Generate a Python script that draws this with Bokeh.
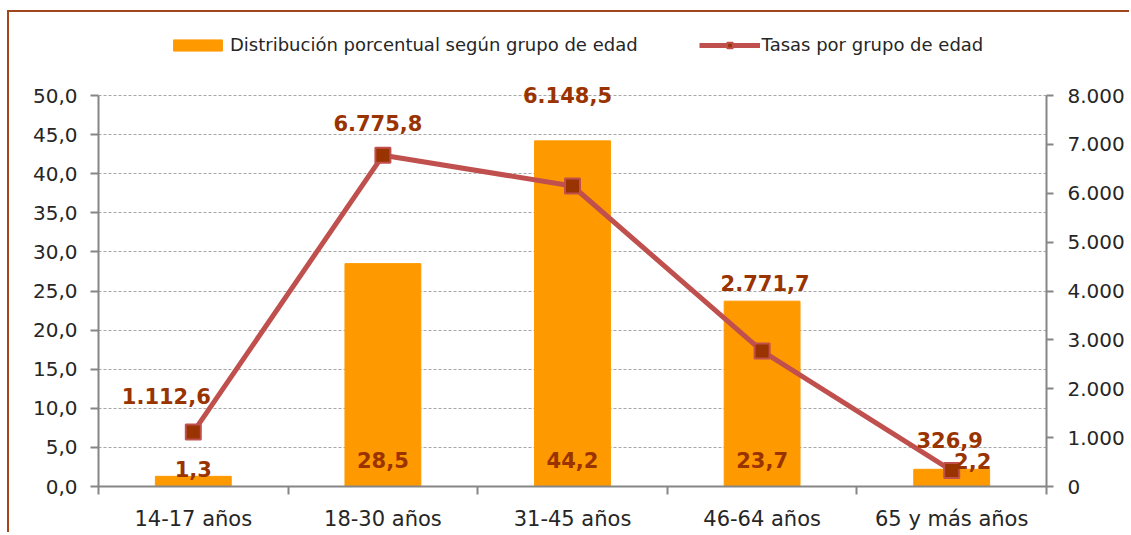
from bokeh.plotting import figure
from bokeh.models import Range1d, LinearAxis, FixedTicker, Legend, LegendItem
from bokeh.core.properties import value
from bokeh.embed import file_html
from bokeh.resources import INLINE

# ---- data ----
categories = ["14-17 años", "18-30 años", "31-45 años", "46-64 años", "65 y más años"]
distribucion = [1.3, 28.5, 44.2, 23.7, 2.2]
tasas = [1112.6, 6775.8, 6148.5, 2771.7, 326.9]
dist_labels = ["1,3", "28,5", "44,2", "23,7", "2,2"]
tasa_labels = ["1.112,6", "6.775,8", "6.148,5", "2.771,7", "326,9"]
left_ticks = [0, 5, 10, 15, 20, 25, 30, 35, 40, 45, 50]
left_tick_labels = ["0,0", "5,0", "10,0", "15,0", "20,0", "25,0", "30,0", "35,0", "40,0", "45,0", "50,0"]
right_ticks = [0, 1000, 2000, 3000, 4000, 5000, 6000, 7000, 8000]
right_tick_labels = ["0", "1.000", "2.000", "3.000", "4.000", "5.000", "6.000", "7.000", "8.000"]
legend_labels = ["Distribución porcentual según grupo de edad", "Tasas por grupo de edad"]

# ---- label placement (pixels, styling only) ----
tasa_dx = [-27, -5, -5, 3, -2]
tasa_dy = [-36, -32, -91, -68, -31]
dist_dx = [0, 0, 0, 0, 21]
dist_dy = [-18, -27, -27, -27, -26]

FONT_NAME = "DejaVu Sans"
FONT = value(FONT_NAME)
AXIS_COLOR = "#868686"
TEXT_COLOR = "#262626"
LABEL_COLOR = "#993300"
BAR_COLOR = "#FF9900"
LINE_COLOR = "#C0504D"

# layout (canvas pixels)
W, H = 1122, 522
FRAME_TOP, AXIS_TOP, FRAME_BOTTOM = 20, 83, 474
FRAME_LEFT, FRAME_RIGHT = 89, 1037
ext = (FRAME_BOTTOM - FRAME_TOP) / (FRAME_BOTTOM - AXIS_TOP)

x = list(range(len(categories)))
bounds = [i - 0.5 for i in range(len(categories) + 1)]

p = figure(width=W, height=H,
           x_range=Range1d(-0.5, len(categories) - 0.5),
           y_range=Range1d(left_ticks[0], left_ticks[-1] * ext),
           output_backend="svg", toolbar_location=None,
           min_border_left=FRAME_LEFT, min_border_right=W - FRAME_RIGHT,
           min_border_top=FRAME_TOP, min_border_bottom=H - FRAME_BOTTOM)
p.styles = {"border-top": "2px solid #A0461E", "border-left": "2px solid #A0461E",
            "margin-left": "7px", "margin-top": "10px"}
p.outline_line_color = None
p.background_fill_color = "white"
p.border_fill_color = "white"

p.extra_y_ranges = {"tasas": Range1d(right_ticks[0], right_ticks[-1] * ext)}

# left axis
p.yaxis.ticker = FixedTicker(ticks=left_ticks)
p.yaxis.bounds = (left_ticks[0], left_ticks[-1])
p.yaxis.major_label_overrides = dict(zip(left_ticks, left_tick_labels))
p.yaxis.axis_line_color = AXIS_COLOR
p.yaxis.axis_line_width = 2
p.yaxis.major_tick_line_color = AXIS_COLOR
p.yaxis.major_tick_line_width = 2
p.yaxis.major_tick_out = 8
p.yaxis.major_tick_in = 0
p.yaxis.minor_tick_line_color = None
p.yaxis.major_label_text_font = FONT_NAME
p.yaxis.major_label_text_font_size = "20px"
p.yaxis.major_label_text_color = TEXT_COLOR
p.yaxis.major_label_standoff = 13

# right axis
ra = LinearAxis(y_range_name="tasas", ticker=FixedTicker(ticks=right_ticks),
                bounds=(right_ticks[0], right_ticks[-1]),
                major_label_overrides=dict(zip(right_ticks, right_tick_labels)))
ra.axis_line_color = AXIS_COLOR
ra.axis_line_width = 2
ra.major_tick_line_color = AXIS_COLOR
ra.major_tick_line_width = 2
ra.major_tick_out = 7
ra.major_tick_in = 0
ra.minor_tick_line_color = None
ra.major_label_text_font = FONT_NAME
ra.major_label_text_font_size = "20px"
ra.major_label_text_color = TEXT_COLOR
ra.major_label_standoff = 14
p.add_layout(ra, "right")

# bottom axis
p.xaxis.ticker = FixedTicker(ticks=x, minor_ticks=bounds)
p.xaxis.major_label_overrides = dict(zip(x, categories))
p.xaxis.axis_line_color = AXIS_COLOR
p.xaxis.axis_line_width = 2
p.xaxis.major_tick_line_color = None
p.xaxis.major_tick_out = 0
p.xaxis.major_tick_in = 0
p.xaxis.minor_tick_line_color = AXIS_COLOR
p.xaxis.minor_tick_line_width = 2
p.xaxis.minor_tick_out = 8
p.xaxis.minor_tick_in = 0
p.xaxis.major_label_text_font = FONT_NAME
p.xaxis.major_label_text_font_size = "21px"
p.xaxis.major_label_text_color = TEXT_COLOR
p.xaxis.major_label_standoff = 12

# grid
p.xgrid.visible = False
p.ygrid.ticker = FixedTicker(ticks=left_ticks)
p.ygrid.grid_line_color = "#A6A6A6"
p.ygrid.grid_line_dash = "3 2"
p.ygrid.grid_line_width = 1

bars = p.vbar(x=x, top=distribucion, width=0.4, fill_color=BAR_COLOR, line_color=BAR_COLOR)
line = p.line(x=x, y=tasas, y_range_name="tasas", line_color=LINE_COLOR, line_width=5)
marks = p.scatter(x=x, y=tasas, y_range_name="tasas", marker="square", size=15,
                  fill_color=LABEL_COLOR, line_color=LINE_COLOR, line_width=2)

p.text(x=x, y=[0] * len(x), text=dist_labels, x_offset=dist_dx, y_offset=dist_dy,
       text_font=FONT, text_font_style="bold", text_font_size="21px",
       text_color=LABEL_COLOR, text_align="center", text_baseline="middle")
p.text(x=x, y=tasas, y_range_name="tasas", text=tasa_labels, x_offset=tasa_dx, y_offset=tasa_dy,
       text_font=FONT, text_font_style="bold", text_font_size="21px",
       text_color=LABEL_COLOR, text_align="center", text_baseline="middle")

legend = Legend(items=[LegendItem(label=legend_labels[0], renderers=[bars]),
                       LegendItem(label=legend_labels[1], renderers=[line, marks])],
                orientation="horizontal", location=(69, 431),
                border_line_color=None, background_fill_alpha=0,
                padding=0, margin=0, spacing=61, label_standoff=2,
                glyph_width=61, glyph_height=14,
                label_text_font=FONT_NAME, label_text_font_size="18px",
                label_text_color=TEXT_COLOR)
p.add_layout(legend)

open("out.html", "w").write(file_html(p, INLINE))
